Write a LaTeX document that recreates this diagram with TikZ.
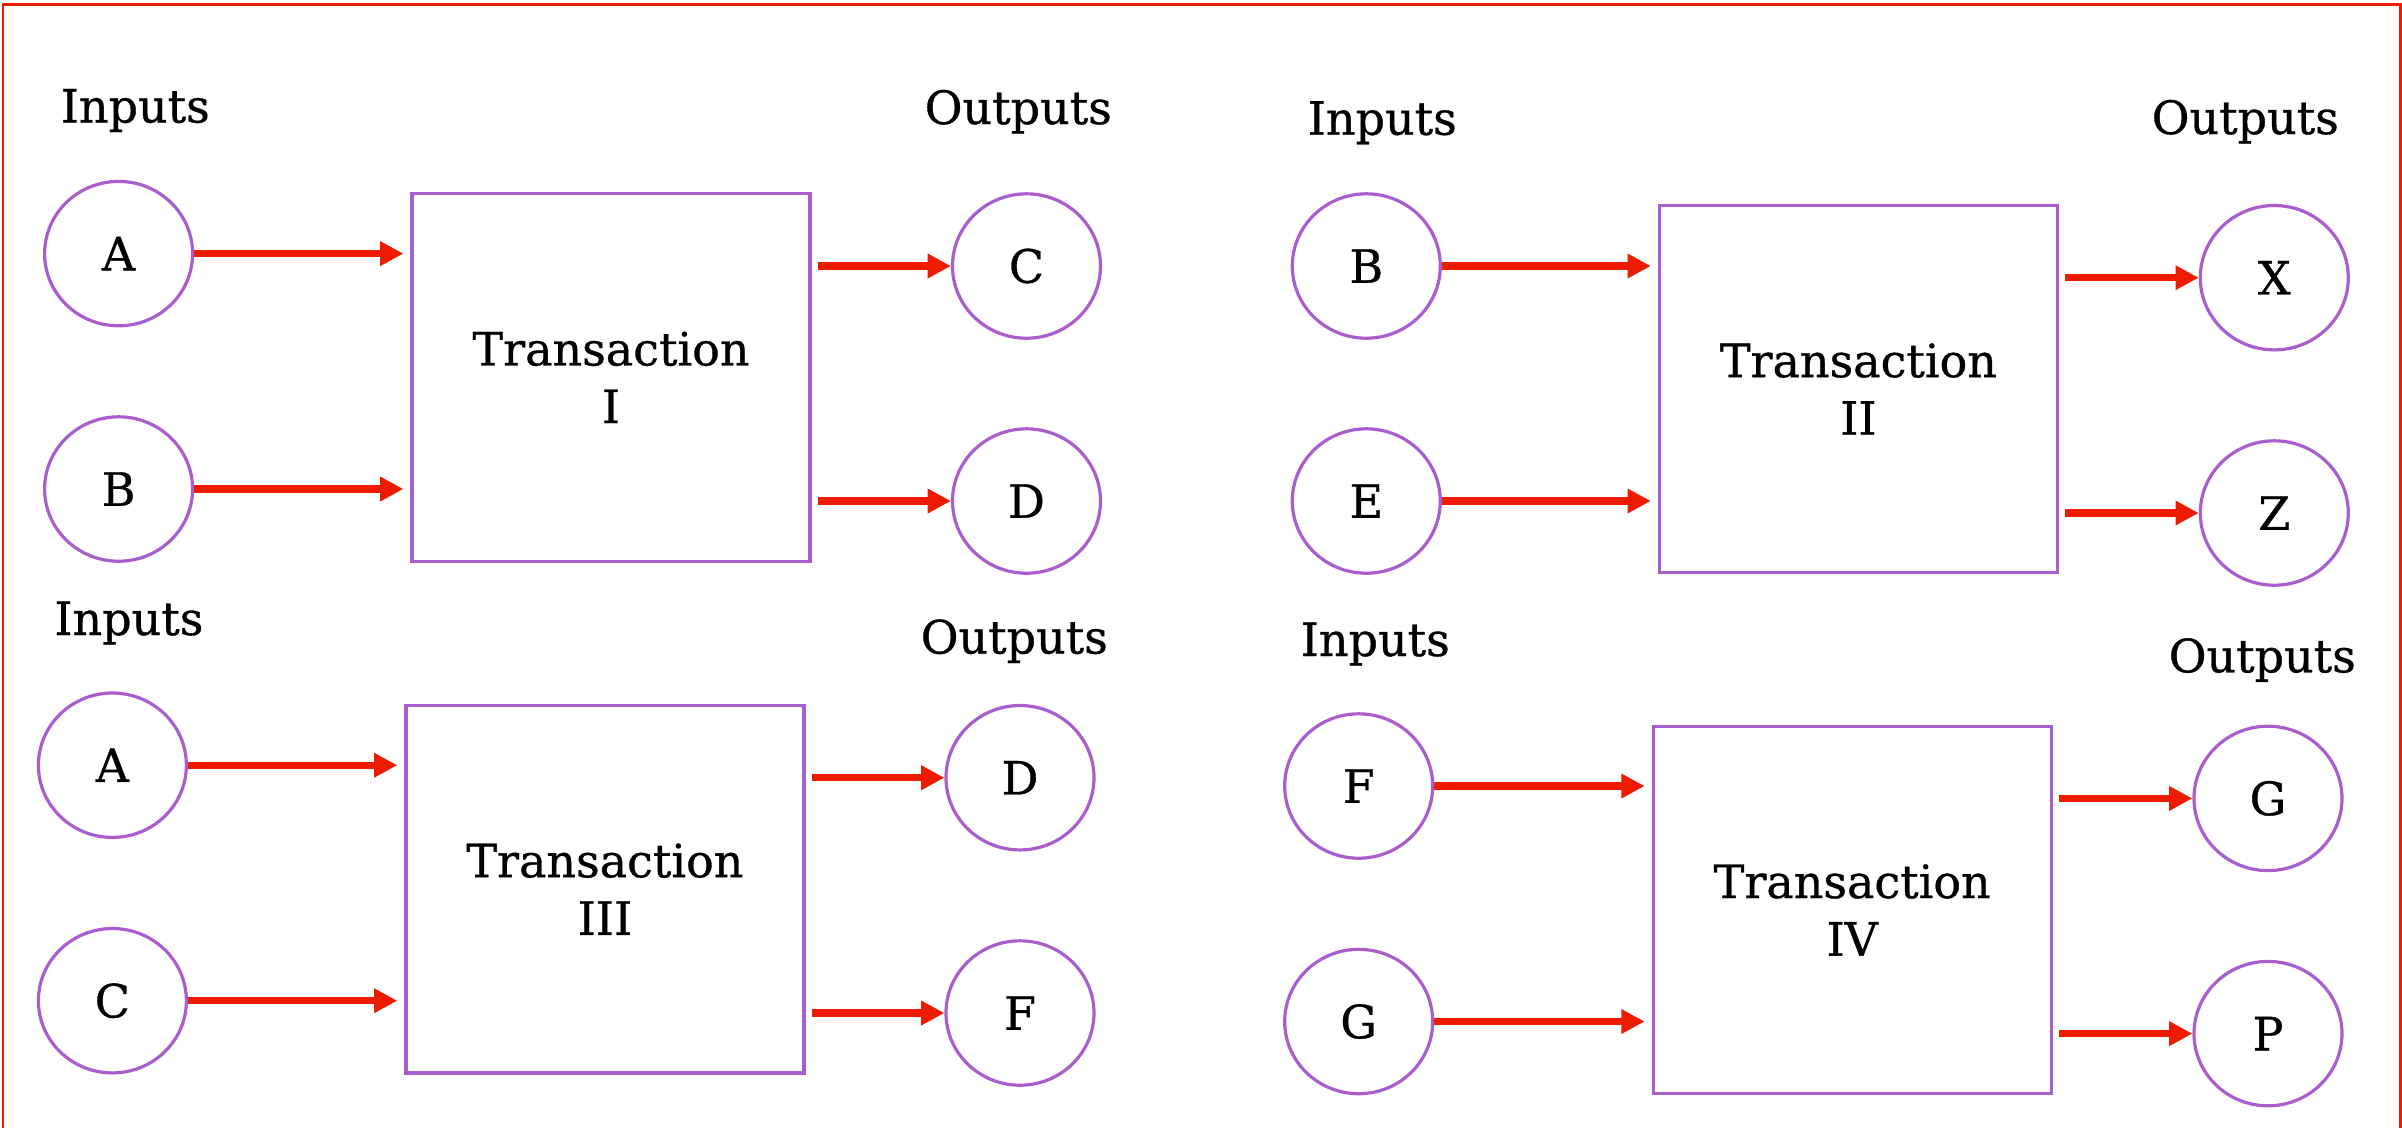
\documentclass[tikz,border=0pt]{standalone}
\usepackage{fontspec}
\setmainfont{DejaVu Serif}[FakeBold=0.7]
\usetikzlibrary{arrows.meta,shapes.geometric}
\definecolor{purp}{RGB}{170,94,206}
\definecolor{arrred}{RGB}{237,27,0}
\begin{document}
\begin{tikzpicture}[x=0.25pt,y=-0.25pt,
  font=\fontsize{11.5}{14.4}\selectfont,
  circ/.style={draw=purp,line width=0.8pt,ellipse,minimum width=37pt,minimum height=36.1pt,inner sep=0pt},
  tbox/.style={draw=purp,line width=0.8pt,rectangle,minimum width=99.5pt,minimum height=91.9pt,align=center,inner sep=0pt},
  lbl/.style={anchor=base west,inner sep=0pt},
  arr/.style={draw=arrred,line width=1.85pt,-{Triangle[length=5.8pt,width=5.8pt]}},
  inarr/.style={arr,shorten >=1.75pt},
  outarr/.style={arr,shorten <=1.5pt}
]
\useasboundingbox[fill=white] (0,0) rectangle (2402,1128);
\draw[draw=arrred,line width=0.7pt] (3,1128) -- (3,4.6) -- (2400.4,4.6) -- (2400.4,1128);

% Panel I
\node[lbl] (in1) at (60,122.5) {Inputs};
\node[lbl] (out1) at (924,124) {Outputs};
\node[circ] (a1) at (118.6,253.6) {A};
\node[circ] (b1) at (118.6,489) {B};
\node[circ] (c1) at (1026.5,266) {C};
\node[circ] (d1) at (1026.5,501) {D};
\node[tbox] (t1) at (611,377.3) {Transaction\\I};
\draw[inarr] (a1.east) -- (a1.east -| t1.west);
\draw[inarr] (b1.east) -- (b1.east -| t1.west);
\draw[outarr] (t1.east |- c1.west) -- (c1.west);
\draw[outarr] (t1.east |- d1.west) -- (d1.west);

% Panel II
\node[lbl] (in2) at (1307,134.7) {Inputs};
\node[lbl] (out2) at (2151,134) {Outputs};
\node[circ] (b2) at (1366.3,266) {B};
\node[circ] (e2) at (1366.3,501) {E};
\node[circ] (x2) at (2274.3,277.7) {X};
\node[circ] (z2) at (2274.3,513) {Z};
\node[tbox] (t2) at (1858.4,389) {Transaction\\II};
\draw[inarr] (b2.east) -- (b2.east -| t2.west);
\draw[inarr] (e2.east) -- (e2.east -| t2.west);
\draw[outarr] (t2.east |- x2.west) -- (x2.west);
\draw[outarr] (t2.east |- z2.west) -- (z2.west);

% Panel III
\node[lbl] (in3) at (53.6,635) {Inputs};
\node[lbl] (out3) at (920,653.5) {Outputs};
\node[circ] (a3) at (112.4,765.2) {A};
\node[circ] (c3) at (112.4,1000.7) {C};
\node[circ] (d3) at (1020,777.7) {D};
\node[circ] (f3) at (1020,1013) {F};
\node[tbox] (t3) at (604.9,889.1) {Transaction\\III};
\draw[inarr] (a3.east) -- (a3.east -| t3.west);
\draw[inarr] (c3.east) -- (c3.east -| t3.west);
\draw[outarr] (t3.east |- d3.west) -- (d3.west);
\draw[outarr] (t3.east |- f3.west) -- (f3.west);

% Panel IV
\node[lbl] (in4) at (1300,656) {Inputs};
\node[lbl] (out4) at (2168,672.3) {Outputs};
\node[circ] (f4) at (1358.7,786) {F};
\node[circ] (g4) at (1358.7,1021.5) {G};
\node[circ] (g4o) at (2268,798.4) {G};
\node[circ] (p4) at (2268,1033.6) {P};
\node[tbox] (t4) at (1852.2,909.9) {Transaction\\IV};
\draw[inarr] (f4.east) -- (f4.east -| t4.west);
\draw[inarr] (g4.east) -- (g4.east -| t4.west);
\draw[outarr] (t4.east |- g4o.west) -- (g4o.west);
\draw[outarr] (t4.east |- p4.west) -- (p4.west);
\end{tikzpicture}
\end{document}
